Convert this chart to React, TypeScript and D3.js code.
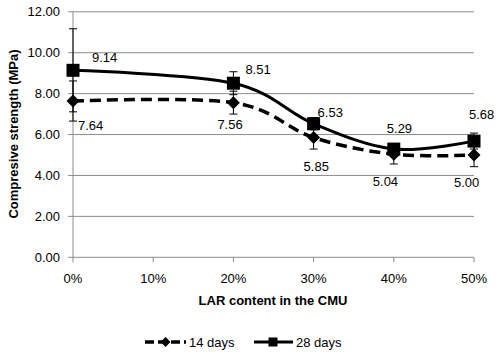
import * as d3 from 'd3';

const LAR = [0, 20, 30, 40, 50];
const DAYS_14 = [7.64, 7.56, 5.85, 5.04, 5.0];
const DAYS_28 = [9.14, 8.51, 6.53, 5.29, 5.68];
const ERR_14 = [0.98, 0.56, 0.56, 0.48, 0.57];
const ERR_28 = [2.03, 0.56, 0.3, 0.25, 0.39];
const Y_TICKS = [0, 2, 4, 6, 8, 10, 12];
const X_TICKS = [0, 10, 20, 30, 40, 50];

// where each data label sits relative to its marker (hand-placed in the original)
const LABEL_OFF_14 = [[5, 24], [-16, 22], [-10, 29], [-21, 27], [-20, 27]];
const LABEL_OFF_28 = [[19, -13], [12, -14], [4, -11], [-7, -21], [-5, -27]];

const W = 503;
const H = 353;
const FONT = '"Liberation Sans", Arial, sans-serif';

const x = d3.scaleLinear().domain([0, 50]).range([73, 474]);
const y = d3.scaleLinear().domain([0, 12]).range([257.3, 11.8]);

const line = d3
  .line<number>()
  .x((_, i) => x(LAR[i]))
  .y((d) => y(d))
  .curve(d3.curveCardinal.tension(0));

const diamond = (cx: number, cy: number, r: number) =>
  `M${cx},${cy - r}L${cx + r},${cy}L${cx},${cy + r}L${cx - r},${cy}Z`;

function ErrorBars({ values, errs }: { values: number[]; errs: number[] }) {
  return (
    <g stroke="#000" strokeWidth={1}>
      {values.map((v, i) => {
        const cx = x(LAR[i]);
        const top = y(v + errs[i]);
        const bot = y(v - errs[i]);
        return (
          <g key={i}>
            <line x1={cx} x2={cx} y1={top} y2={bot} />
            <line x1={cx - 4} x2={cx + 4} y1={top} y2={top} />
            <line x1={cx - 4} x2={cx + 4} y1={bot} y2={bot} />
          </g>
        );
      })}
    </g>
  );
}

export default function App() {
  return (
    <svg
      width={W}
      height={H}
      style={{ position: 'absolute', left: 0, top: 0, background: '#fff' }}
      fontFamily={FONT}
    >
      {/* grid */}
      <g stroke="#8c8c8c" strokeWidth={1}>
        {Y_TICKS.map((t) => (
          <line key={t} x1={68} x2={474} y1={y(t)} y2={y(t)} />
        ))}
        <line x1={73} x2={73} y1={y(12)} y2={y(0)} />
        {X_TICKS.map((t) => (
          <line key={t} x1={x(t)} x2={x(t)} y1={y(0)} y2={y(0) + 5} />
        ))}
      </g>

      {/* tick labels */}
      <g fontSize={13} fill="#000">
        {Y_TICKS.map((t) => (
          <text key={t} x={60} y={y(t)} dy="0.35em" textAnchor="end">
            {t.toFixed(2)}
          </text>
        ))}
        {X_TICKS.map((t) => (
          <text key={t} x={x(t)} y={278} dy="0.35em" textAnchor="middle">
            {t}%
          </text>
        ))}
      </g>

      {/* axis titles */}
      <text x={273} y={300} dy="0.35em" textAnchor="middle" fontSize={13} fontWeight="bold">
        LAR content in the CMU
      </text>
      <text
        transform={`translate(13,134) rotate(-90)`}
        dy="0.35em"
        textAnchor="middle"
        fontSize={13}
        fontWeight="bold"
      >
        Compresive strength (MPa)
      </text>

      <ErrorBars values={DAYS_28} errs={ERR_28} />
      <ErrorBars values={DAYS_14} errs={ERR_14} />

      {/* 14 days */}
      <path d={line(DAYS_14) ?? ''} fill="none" stroke="#000" strokeWidth={3.5} strokeDasharray="11,6" />
      {DAYS_14.map((v, i) => (
        <path key={i} d={diamond(x(LAR[i]), y(v), 6.5)} fill="#000" />
      ))}

      {/* 28 days */}
      <path d={line(DAYS_28) ?? ''} fill="none" stroke="#000" strokeWidth={3} />
      {DAYS_28.map((v, i) => (
        <rect key={i} x={x(LAR[i]) - 6.5} y={y(v) - 6.5} width={13} height={13} fill="#000" />
      ))}

      {/* data labels */}
      <g fontSize={13} fill="#000">
        {DAYS_28.map((v, i) => (
          <text key={'a' + i} x={x(LAR[i]) + LABEL_OFF_28[i][0]} y={y(v) + LABEL_OFF_28[i][1]} dy="0.35em">
            {v.toFixed(2)}
          </text>
        ))}
        {DAYS_14.map((v, i) => (
          <text key={'b' + i} x={x(LAR[i]) + LABEL_OFF_14[i][0]} y={y(v) + LABEL_OFF_14[i][1]} dy="0.35em">
            {v.toFixed(2)}
          </text>
        ))}
      </g>

      {/* legend */}
      <g fontSize={13}>
        <line x1={145} x2={186} y1={342} y2={342} stroke="#000" strokeWidth={3.5} strokeDasharray="9,4" />
        <path d={diamond(165.5, 342, 5)} fill="#000" />
        <text x={189} y={342} dy="0.35em">14 days</text>
        <line x1={254} x2={293} y1={342} y2={342} stroke="#000" strokeWidth={3} />
        <rect x={268.5} y={337.5} width={9} height={9} fill="#000" />
        <text x={296} y={342} dy="0.35em">28 days</text>
      </g>
    </svg>
  );
}
